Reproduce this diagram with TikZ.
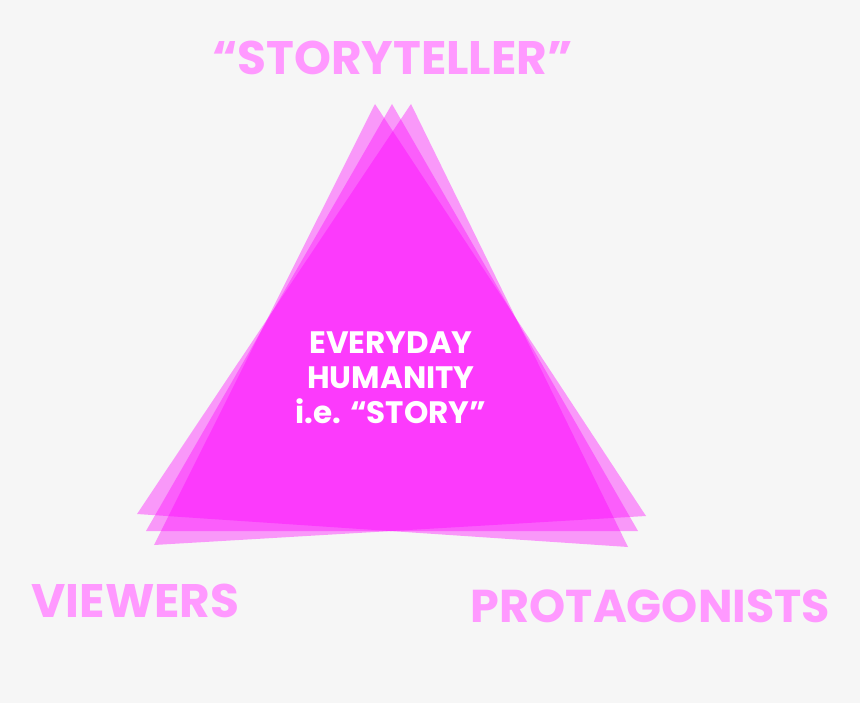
\documentclass[tikz,border=0pt]{standalone}
\usepackage{fontspec}
\setmainfont{Poppins}
\usepackage{tikz}
\definecolor{bgGrey}{HTML}{F6F6F6}
\definecolor{labelPink}{HTML}{FF99FF}
\definecolor{layerPink}{RGB}{255,0,255}
\tikzset{
  layer/.style={fill=layerPink,fill opacity=0.38},
  corner label/.style={text=labelPink,font=\fontsize{47}{50}\selectfont\bfseries,anchor=base,inner sep=0pt}
}
\begin{document}
\begin{tikzpicture}[x=1pt,y=-1pt]
		% background and page size
		\fill[bgGrey] (0,0) rectangle (860,703);
		\useasboundingbox (0,0) rectangle (860,703);
		% three slightly turned triangles
		\fill[layer] (137,514) -- (628,547) -- (411,104) -- cycle;
		\fill[layer] (146,531) -- (638,531) -- (392,104) -- cycle;
		\fill[layer] (154,545) -- (646,516) -- (375,104) -- cycle;
		% labels
		\node[corner label] (storyteller) at (392.5,75) {“STORYTELLER”};
		\node[corner label] (viewers) at (135.5,617) {VIEWERS};
		\node[corner label,font=\fontsize{46}{50}\selectfont\bfseries] (protagonists) at (650.5,622) {PROTAGONISTS};
		\node[text=white,font=\fontsize{31}{35}\selectfont\bfseries,align=center,inner sep=0pt] (story) at (391,378) {EVERYDAY\\HUMANITY\\i.e. “STORY”};
	\end{tikzpicture}
\end{document}
